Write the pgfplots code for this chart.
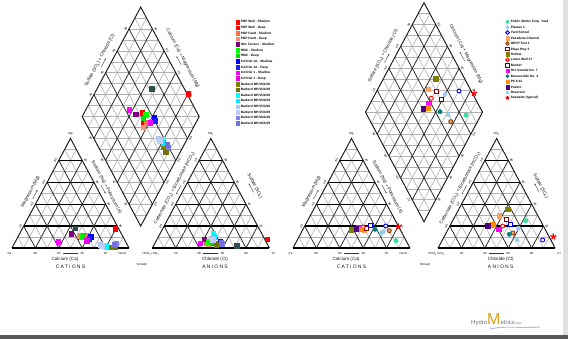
\documentclass[border=0pt]{standalone}
\usepackage{fontspec}
\setmainfont{Liberation Sans}
\usepackage{pgfplots}
\pgfplotsset{compat=1.18}
\usetikzlibrary{arrows.meta}

\definecolor{cRed}{HTML}{FF0000}
\definecolor{cCoral}{HTML}{FF7050}
\definecolor{cCoral2}{HTML}{FF9070}
\definecolor{cPurple}{HTML}{800080}
\definecolor{cSlate}{HTML}{2F4F4F}
\definecolor{cLime}{HTML}{00FF00}
\definecolor{cLime2}{HTML}{00E000}
\definecolor{cBlue}{HTML}{0000FF}
\definecolor{cBlue2}{HTML}{2020FF}
\definecolor{cMag}{HTML}{FF00FF}
\definecolor{cMag2}{HTML}{EE00EE}
\definecolor{cOlive}{HTML}{808000}
\definecolor{cOlive2}{HTML}{707010}
\definecolor{cCyan}{HTML}{00FFFF}
\definecolor{cCyan2}{HTML}{00EEFF}
\definecolor{cLav}{HTML}{B0C4F0}
\definecolor{cLav2}{HTML}{C0CCF8}
\definecolor{cSBlue}{HTML}{8080F0}
\definecolor{cSBlue2}{HTML}{7070E0}
\definecolor{cAqua}{HTML}{30E0A0}
\definecolor{cLtBlue}{HTML}{A8C8F8}
\definecolor{cSand}{HTML}{F4A460}
\definecolor{cBrown}{HTML}{8B4513}
\definecolor{cDkRed}{HTML}{8B0000}
\definecolor{cTeal}{HTML}{008080}
\definecolor{cOrange}{HTML}{FF8C00}
\definecolor{cIndigo}{HTML}{4B0082}
\definecolor{cSky}{HTML}{87CEFA}
\definecolor{cGold}{HTML}{D9A21E}

\newcommand\ftk{\fontsize{3}{3}\selectfont}
\newcommand\fti{\fontsize{4.6}{5}\selectfont}
\newcommand\fleg{\fontsize{3.2}{3.6}\selectfont\bfseries}
\newcommand\fcap{\fontsize{5}{5}\selectfont\addfontfeature{LetterSpace=25}}

\tikzset{
 gg/.style={draw=black!30, line width=0.6pt},
 gb/.style={draw=black!85, line width=0.75pt},
 gh/.style={draw=black, line width=1.2pt},
 outl/.style={draw=black!90, line width=0.95pt},
 tk/.style={font=\ftk, inner sep=0pt, text=black},
 ti/.style={font=\fti, inner sep=0pt, text=black!90},
 arr/.style={-{Stealth[length=1.6pt,width=1.4pt]}, line width=0.35pt, draw=black!80},
}

% triangle grid, #1 = x of left vertex (pixels)
\newcommand\trigrid[1]{%
\pgfplotsinvokeforeach{0.1,0.3,0.5,0.7,0.9}{%
\draw[gg] (axis cs:{#1+58.5*##1},{248-109.5*##1}) -- (axis cs:{#1+117-58.5*##1},{248-109.5*##1});
\draw[gg] (axis cs:{#1+117*##1},248) -- (axis cs:{#1+58.5+58.5*##1},{138.5+109.5*##1});
\draw[gg] (axis cs:{#1+117*##1},248) -- (axis cs:{#1+58.5*##1},{248-109.5*##1});
}%
\pgfplotsinvokeforeach{0.2,0.4,0.6,0.8}{%
\draw[gb] (axis cs:{#1+117*##1},248) -- (axis cs:{#1+58.5+58.5*##1},{138.5+109.5*##1});
\draw[gb] (axis cs:{#1+117*##1},248) -- (axis cs:{#1+58.5*##1},{248-109.5*##1});
\draw[gh] (axis cs:{#1+58.5*##1},{248-109.5*##1}) -- (axis cs:{#1+117-58.5*##1},{248-109.5*##1});
}%
\draw[outl] (axis cs:#1,248) -- (axis cs:{#1+58.5},138.5) -- (axis cs:{#1+117},248);
\draw[gh] (axis cs:#1,248) -- (axis cs:{#1+117},248);
}

% diamond grid, #1,#2 = bottom vertex
\newcommand\diagrid[2]{%
\pgfplotsinvokeforeach{1,2,3,4,5,6,7,8,9,10,11,12,13,14,15,16,17,18,19}{%
\draw[gg] (axis cs:{#1-5.85*min(##1,20-##1)},{#2-10.95*##1}) -- (axis cs:{#1+5.85*min(##1,20-##1)},{#2-10.95*##1});
}%
\pgfplotsinvokeforeach{0.1,0.3,0.5,0.7,0.9}{%
\draw[gg] (axis cs:{#1-58.5*##1},{#2-109.5*##1}) -- (axis cs:{#1+58.5-58.5*##1},{#2-109.5-109.5*##1});
\draw[gg] (axis cs:{#1+58.5*##1},{#2-109.5*##1}) -- (axis cs:{#1-58.5+58.5*##1},{#2-109.5-109.5*##1});
}%
\pgfplotsinvokeforeach{0.2,0.4,0.6,0.8}{%
\draw[gb] (axis cs:{#1-58.5*##1},{#2-109.5*##1}) -- (axis cs:{#1+58.5-58.5*##1},{#2-109.5-109.5*##1});
\draw[gb] (axis cs:{#1+58.5*##1},{#2-109.5*##1}) -- (axis cs:{#1-58.5+58.5*##1},{#2-109.5-109.5*##1});
}%
\draw[outl] (axis cs:#1,#2) -- (axis cs:{#1+58.5},{#2-109.5}) -- (axis cs:#1,{#2-219}) -- (axis cs:{#1-58.5},{#2-109.5}) -- cycle;
}

% labels: #1 cation x, #2 anion x, #3,#4 diamond bottom
\newcommand\piperlabels[4]{%
% cation
\node[tk] at (axis cs:{#1-2.5},253.5) {Ca};
\node[tk] at (axis cs:{#1+110.5},253.5) {Na+K};
\node[tk] at (axis cs:{#1+58.5},134) {Mg};
\node[tk] at (axis cs:{#1+23.4},253.5) {80};
\node[tk] at (axis cs:{#1+46.8},253.5) {60};
\node[tk] at (axis cs:{#1+70.2},253.5) {40};
\node[tk] at (axis cs:{#1+93.6},253.5) {20};
\node[tk,rotate=62] at (axis cs:{#1+8.4},226.1) {20};
\node[tk,rotate=62] at (axis cs:{#1+20.1},204.2) {40};
\node[tk,rotate=62] at (axis cs:{#1+31.8},182.3) {60};
\node[tk,rotate=62] at (axis cs:{#1+43.5},160.4) {80};
\node[tk,rotate=-62] at (axis cs:{#1+73.5},160.4) {20};
\node[tk,rotate=-62] at (axis cs:{#1+85.2},182.3) {40};
\node[tk,rotate=-62] at (axis cs:{#1+96.9},204.2) {60};
\node[tk,rotate=-62] at (axis cs:{#1+108.6},226.1) {80};
\node[ti,rotate=62] at (axis cs:{#1+18.5},191.7) {Magnesium (Mg)};
\draw[arr] (axis cs:{#1+20.6},198.8) -- (axis cs:{#1+25.4},190.0);
\node[ti,rotate=-62] at (axis cs:{#1+94.6},187.3) {Sodium (Na) + Potassium (K)};
\draw[arr] (axis cs:{#1+88.8},184.8) -- (axis cs:{#1+93.6},193.6);
\draw[arr] (axis cs:{#1+66},253.5) -- (axis cs:{#1+51},253.5);
\node[ti] at (axis cs:{#1+53},259.3) {Calcium (Ca)};
\node[ti,font=\fcap] at (axis cs:{#1+58.5},267) {CATIONS};
% anion
\node[tk] at (axis cs:{#2-1.6},253.5) {HCO\textsubscript{3}+CO\textsubscript{3}};
\node[tk] at (axis cs:{#2+121},253.5) {Cl};
\node[tk] at (axis cs:{#2+58.5},134) {SO\textsubscript{4}};
\node[tk] at (axis cs:{#2+23.4},253.5) {20};
\node[tk] at (axis cs:{#2+46.8},253.5) {40};
\node[tk] at (axis cs:{#2+70.2},253.5) {60};
\node[tk] at (axis cs:{#2+93.6},253.5) {80};
\node[tk,rotate=62] at (axis cs:{#2+8.4},226.1) {80};
\node[tk,rotate=62] at (axis cs:{#2+20.1},204.2) {60};
\node[tk,rotate=62] at (axis cs:{#2+31.8},182.3) {40};
\node[tk,rotate=62] at (axis cs:{#2+43.5},160.4) {20};
\node[tk,rotate=-62] at (axis cs:{#2+73.5},160.4) {80};
\node[tk,rotate=-62] at (axis cs:{#2+85.2},182.3) {60};
\node[tk,rotate=-62] at (axis cs:{#2+96.9},204.2) {40};
\node[tk,rotate=-62] at (axis cs:{#2+108.6},226.1) {20};
\node[ti,rotate=62] at (axis cs:{#2+22},188.3) {Carbonate (CO\textsubscript{3}) + Bicarbonate (HCO\textsubscript{3})};
\draw[arr] (axis cs:{#2+28.6},185.4) -- (axis cs:{#2+23.8},194.2);
\node[ti,rotate=-62] at (axis cs:{#2+102.5},186) {Sulfate (SO\textsubscript{4})};
\draw[arr] (axis cs:{#2+101.2},192.3) -- (axis cs:{#2+96.4},183.5);
\draw[arr] (axis cs:{#2+51},253.5) -- (axis cs:{#2+66},253.5);
\node[ti] at (axis cs:{#2+62.6},259.3) {Chloride (Cl)};
\node[ti,font=\fcap] at (axis cs:{#2+62.6},267) {ANIONS};
% diamond
\node[tk,rotate=62] at (axis cs:{#3-50.1},{#4-131.4}) {20};
\node[tk,rotate=62] at (axis cs:{#3-38.4},{#4-153.3}) {40};
\node[tk,rotate=62] at (axis cs:{#3-26.7},{#4-175.2}) {60};
\node[tk,rotate=62] at (axis cs:{#3-15.0},{#4-197.1}) {80};
\node[tk,rotate=-62] at (axis cs:{#3+15.0},{#4-197.1}) {80};
\node[tk,rotate=-62] at (axis cs:{#3+26.7},{#4-175.2}) {60};
\node[tk,rotate=-62] at (axis cs:{#3+38.4},{#4-153.3}) {40};
\node[tk,rotate=-62] at (axis cs:{#3+50.1},{#4-131.4}) {20};
\node[tk,rotate=-62] at (axis cs:{#3-50.1},{#4-87.6}) {80};
\node[tk,rotate=-62] at (axis cs:{#3-38.4},{#4-65.7}) {60};
\node[tk,rotate=-62] at (axis cs:{#3-26.7},{#4-43.8}) {40};
\node[tk,rotate=-62] at (axis cs:{#3-15.0},{#4-21.9}) {20};
\node[tk,rotate=62] at (axis cs:{#3+50.1},{#4-87.6}) {80};
\node[tk,rotate=62] at (axis cs:{#3+38.4},{#4-65.7}) {60};
\node[tk,rotate=62] at (axis cs:{#3+26.7},{#4-43.8}) {40};
\node[tk,rotate=62] at (axis cs:{#3+15.0},{#4-21.9}) {20};
\node[ti,rotate=62] at (axis cs:{#3-41},{#4-165.8}) {Sulfate (SO\textsubscript{4}) + Chloride (Cl)};
\draw[arr] (axis cs:{#3-39.6},{#4-159.0}) -- (axis cs:{#3-34.8},{#4-167.8});
\node[ti,rotate=-62] at (axis cs:{#3+42},{#4-167.8}) {Calcium (Ca) + Magnesium (Mg)};
\draw[arr] (axis cs:{#3+40.6},{#4-161.0}) -- (axis cs:{#3+35.8},{#4-169.8});
\node[tk] at (axis cs:{#3+1},265) {\%meq/l};
}

\pgfplotsset{
 piper/.style={width=568pt, height=339pt, scale only axis, xmin=0, xmax=568, ymin=0, ymax=339,
   y dir=reverse, hide axis, clip=false,
   legend cell align=left,
   legend image code/.code={\draw[##1,mark size=1.8pt] plot coordinates {(1.8pt,0pt)};},
 },
 sq/.style={only marks, mark=square*, mark size=2.3pt, color=#1},
}

\begin{document}
\begin{tikzpicture}
\begin{axis}[piper,
  legend style={at={(axis cs:235.5,18.9)}, anchor=north west, draw=none, fill=none, font=\fleg,
    inner sep=0pt, row sep=0pt, column sep=1.5pt,
    nodes={inner sep=0pt, text height=3.9pt, text depth=1.74pt}}]
\fill[white] (axis cs:0,0) rectangle (axis cs:568,339);
\fill[black!12] (axis cs:563,0) rectangle (axis cs:568,334.5);
\fill[black!65] (axis cs:0,334.5) rectangle (axis cs:568,339);
\trigrid{12}
\trigrid{152.4}
\diagrid{140.7}{226.1}
\piperlabels{12}{152.4}{140.7}{226.1}
% logo
\draw[blue!30, line width=0.9pt] (axis cs:490,329) .. controls (axis cs:505,325.5) and (axis cs:522,328.5) .. (axis cs:540,327);
\node[font=\fontsize{6}{6}\selectfont, text=black!55, inner sep=0pt, anchor=base west] at (axis cs:471,324) {Hydro\textcolor{cGold}{\fontsize{16}{16}\selectfont M}etrics\,{\fontsize{2.8}{2.8}\selectfont WRI}};

\addplot[sq=cRed] coordinates {(142.3,113.0) (143.0,124.0) (80.0,237.0) (210.0,243.3)};
\addlegendentry{PGP Well - Shallow}
\addplot[sq=cRed] coordinates {(188.0,94.0) (115.0,229.0) (267.3,239.3)};
\addlegendentry{PGP Well - Deep}
\addplot[sq=cCoral] coordinates {(146.0,123.0) (86.0,235.3) (206.0,243.3)};
\addlegendentry{PGP Fault - Shallow}
\addplot[sq=cCoral2] coordinates {(143.3,127.3) (79.0,236.0) (208.0,244.0)};
\addlegendentry{PGP Fault - Deep}
\addplot[sq=cPurple] coordinates {(135.7,114.3) (71.0,234.0) (204.3,239.3)};
\addlegendentry{Otis Terrace - Shallow}
\addplot[sq=cLime] coordinates {(145.7,115.0) (81.0,236.7) (208.3,241.7)};
\addlegendentry{HMC - Shallow}
\addplot[sq=cLime2] coordinates {(143.0,118.3) (83.3,236.0) (212.0,242.0)};
\addlegendentry{HMC - Deep}
\addplot[sq=cBlue] coordinates {(154.3,118.0) (90.7,236.7) (220.0,241.7)};
\addlegendentry{Ind Dist 1A - Shallow}
\addplot[sq=cBlue2] coordinates {(155.3,121.0) (89.3,238.7) (219.0,244.0)};
\addlegendentry{Ind Dist 1A - Deep}
\addplot[sq=cMag] coordinates {(129.3,110.0) (58.3,241.7) (200.0,243.3)};
\addlegendentry{Ind Dist 1 - Shallow}
\addplot[sq=cMag2] coordinates {(150.0,123.0) (86.7,241.0) (211.0,239.0)};
\addlegendentry{Ind Dist 1 - Deep}
\addplot[sq=cOlive] coordinates {(163.7,146.7) (111.7,247.3) (215.0,243.3)};
\addlegendentry{Barkerd MP/15/1/08}
\addplot[sq=cOlive2] coordinates {(165.7,152.0) (115.0,247.3) (216.0,245.0)};
\addlegendentry{Barkerd MP/15/1/09}
\addplot[sq=cCyan] coordinates {(162.0,139.3) (106.0,246.7) (213.3,233.3)};
\addlegendentry{Barkerd MP/15/2/08}
\addplot[sq=cCyan2] coordinates {(163.0,143.3) (103.3,245.7) (214.0,236.7)};
\addlegendentry{Barkerd MP/15/2/09}
\addplot[sq=cLav] coordinates {(158.0,138.7) (100.0,245.0) (211.7,238.3)};
\addlegendentry{Barkerd MP/15/3/08}
\addplot[sq=cLav2] coordinates {(159.5,140.5) (101.5,245.5) (212.5,239.5)};
\addlegendentry{Barkerd MP/15/3/09}
\addplot[sq=cSBlue] coordinates {(168.3,147.3) (116.0,244.0) (221.7,244.0)};
\addlegendentry{Barkerd MP/16/1/08}
\addplot[sq=cSBlue2] coordinates {(167.0,145.0) (114.0,245.0) (221.0,243.0)};
\addlegendentry{Barkerd MP/16/1/09}
\addplot[sq=cSlate, forget plot] coordinates {(151.7,89.0) (75.0,228.3) (236.7,246.0)};
\end{axis}

\begin{axis}[piper,
  legend style={at={(axis cs:505.5,18.9)}, anchor=north west, draw=none, fill=none, font=\fleg,
    inner sep=0pt, row sep=0pt, column sep=1.5pt,
    nodes={inner sep=0pt, text height=3.8pt, text depth=1.63pt}}]
\trigrid{293}
\trigrid{438.1}
\diagrid{424}{221.7}
\piperlabels{293}{438.1}{424}{221.7}

\addplot[only marks, mark=*, mark size=2.2pt, color=cAqua] coordinates {(466,115) (396,240.7) (525.7,220.7)};
\addlegendentry{Public Works Corp. Yard}
\addplot[only marks, mark=*, mark size=2.2pt, color=cLtBlue] coordinates {(445,94.3) (383.3,231.7) (518.3,228.3)};
\addlegendentry{Plateau 1}
\addplot[only marks, mark=*, mark size=2pt, mark options={draw=cBlue, fill=white, line width=0.9pt}] coordinates {(459,91) (385.7,226) (542.7,240)};
\addlegendentry{Yard School}
\addplot[sq=cSand] coordinates {(428,89.3) (364,230) (499,216)};
\addlegendentry{Pasadena Channel}
\addplot[only marks, mark=*, mark size=2pt, mark options={draw=cBrown, fill=cSand, line width=0.9pt}] coordinates {(450.7,121.7) (389.3,230.7) (513,233)};
\addlegendentry{HECP Test 1}
\addplot[only marks, mark=square*, mark size=2pt, mark options={draw=cDkRed, fill=white, line width=0.9pt}] coordinates {(436.7,91.7) (366,228) (506.7,219.3)};
\addlegendentry{Playa Hwy 2}
\addplot[sq=cOlive] coordinates {(435.7,79) (351,230) (507.7,209.3)};
\addlegendentry{Hollow}
\addplot[only marks, mark=*, mark size=2pt, mark options={draw=cRed, fill=white, line width=0.9pt}] coordinates {(431.3,98.3) (363,227) (502.7,226)};
\addlegendentry{Lower Well 17}
\addplot[only marks, mark=square*, mark size=2pt, mark options={draw=cBlue, fill=white, line width=0.9pt}] coordinates {(441.3,99) (370.7,225) (510.7,224)};
\addlegendentry{Bunker}
\addplot[sq=cMag] coordinates {(428.7,103.3) (358.3,227.7) (498.7,229.3)};
\addlegendentry{Oro Grande No. 7}
\addplot[only marks, mark=*, mark size=2.2pt, color=cTeal] coordinates {(440,111.7) (375,229.3) (509.3,234.3)};
\addlegendentry{Bureau Gdn No. 4}
\addplot[sq=cOrange] coordinates {(428,107.7) (360.7,229.3) (492.7,225)};
\addlegendentry{PS 1/12}
\addplot[sq=cIndigo] coordinates {(423,109) (356,229) (487.7,226)};
\addlegendentry{Pueblo}
\addplot[only marks, mark=triangle*, mark size=2.6pt, color=cSky] coordinates {(448.3,115) (381,233) (517.3,240)};
\addlegendentry{Reservoir}
\addplot[only marks, mark=star, mark size=3.2pt, color=cRed, line width=1.3pt] coordinates {(474,93.3) (398.3,226.7) (553.3,236.7)};
\addlegendentry{Seawater (typical)}
\end{axis}
\end{tikzpicture}
\end{document}
